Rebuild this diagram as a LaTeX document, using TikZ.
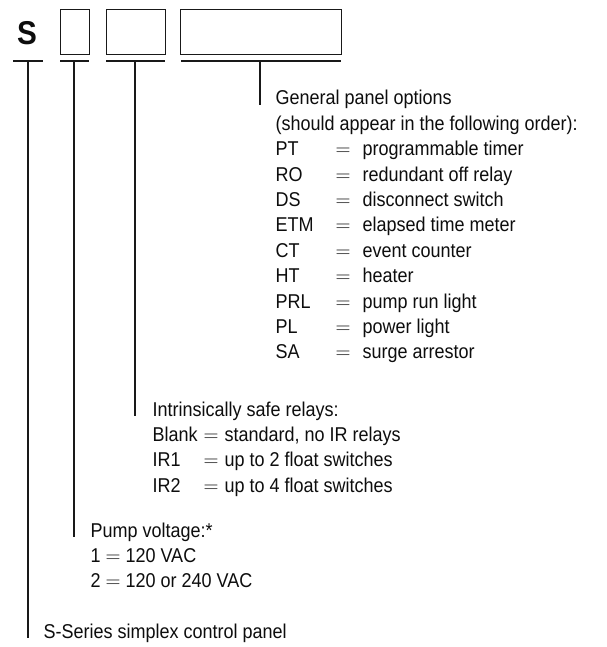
\documentclass[tikz,border=0pt]{standalone}
\usepackage{fontspec}
\setmainfont[FakeStretch=0.9]{Liberation Sans}
\usetikzlibrary{positioning}
\definecolor{ordblack}{gray}{0.05}
\definecolor{ordline}{gray}{0.1}

\begin{document}
\begin{tikzpicture}[x=1pt,y=-1pt,line width=1.2pt,
  every node/.style={inner sep=0pt,anchor=base west,text=ordblack,
    font=\fontsize{20}{25.4}\selectfont},
  codebox/.style={draw=ordline,anchor=north west,minimum height=45pt}]
  \useasboundingbox (0,0) rectangle (606,647);
  \node[font=\fontsize{33}{33}\selectfont\bfseries,anchor=base] (series) at (27,45) {S};
  \node[codebox,minimum width=29pt] (volt) at (60,9) {};
  \node[codebox,minimum width=59pt] (relay) at (106,9) {};
  \node[codebox,minimum width=161pt] (opts) at (180,9) {};
  \coordinate (ulS) at (28,61);
  \coordinate (ulV) at (74,61);
  \coordinate (ulR) at (135,61);
  \coordinate (ulO) at (260,61);
  \draw[ordline] (13,61) -- (43,61);
  \draw[ordline] (60,61) -- (89,61);
  \draw[ordline] (106,61) -- (165,61);
  \draw[ordline] (181,61) -- (341,61);
  \node (genopts) at (275,105)
    {\begin{tabular}[t]{@{}p{60pt}@{}p{27pt}@{}l@{}}
     \multicolumn{3}{@{}l@{}}{General panel options}\\
     \multicolumn{3}{@{}l@{}}{(should appear in the following order):}\\
     PT&$=$&programmable timer\\
     RO&$=$&redundant off relay\\
     DS&$=$&disconnect switch\\
     ETM&$=$&elapsed time meter\\
     CT&$=$&event counter\\
     HT&$=$&heater\\
     PRL&$=$&pump run light\\
     PL&$=$&power light\\
     SA&$=$&surge arrestor
     \end{tabular}};
  \node (safe) at (152,416)
    {\begin{tabular}[t]{@{}p{51pt}@{}p{21pt}@{}l@{}}
     \multicolumn{3}{@{}l@{}}{Intrinsically safe relays:}\\
     Blank&$=$&standard, no IR relays\\
     IR1&$=$&up to 2 float switches\\
     IR2&$=$&up to 4 float switches
     \end{tabular}};
  \node (pumpv) at (90,537)
    {\begin{tabular}[t]{@{}l@{}}
     Pump voltage:*\\
     1 $=$ 120 VAC\\
     2 $=$ 120 or 240 VAC
     \end{tabular}};
  \node (simplex) at (43,638) {S-Series simplex control panel};
  \draw[ordline] (ulO) -- (ulO |- genopts.base);
  \draw[ordline] (ulR) -- (ulR |- safe.base);
  \draw[ordline] (ulV) -- (ulV |- pumpv.base);
  \draw[ordline] (ulS) -- (ulS |- simplex.base);
\end{tikzpicture}
\end{document}
